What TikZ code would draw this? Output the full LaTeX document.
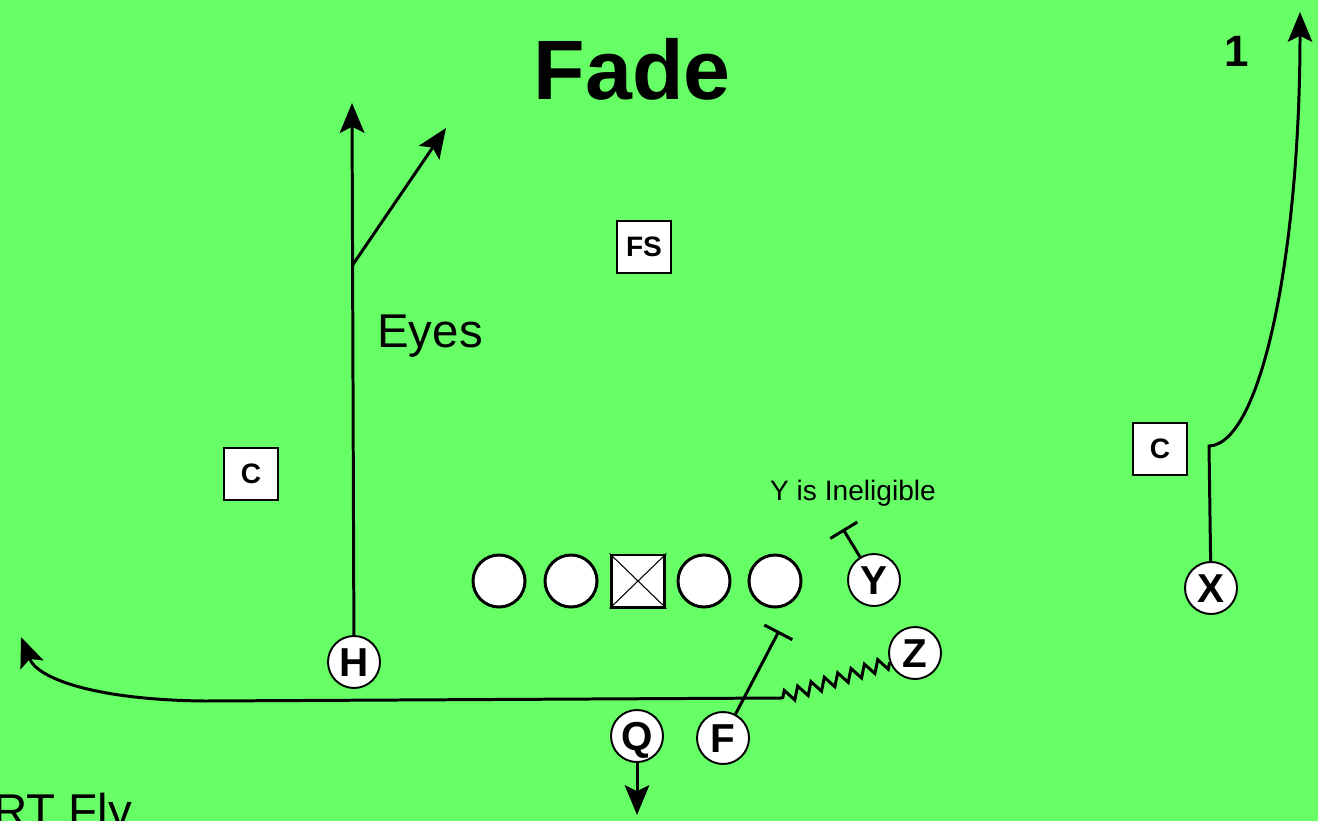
\documentclass[tikz,border=0pt]{standalone}
\usepackage{fontspec}
\setmainfont{Liberation Sans}
\usetikzlibrary{arrows.meta,decorations.pathmorphing}
\definecolor{field}{RGB}{102,255,102}
\tikzset{
	player/.style={circle,draw,fill=white,line width=1.1pt,minimum size=29.6pt,inner sep=0pt,text height=16.3pt,text depth=0pt,font=\fontsize{23}{23}\selectfont\bfseries},
	lineman/.style={circle,draw,fill=white,line width=1.7pt,minimum size=29.6pt,inner sep=0pt},
	defender/.style={rectangle,draw,fill=white,line width=0.8pt,minimum width=30.7pt,minimum height=29.6pt,inner sep=0pt,font=\fontsize{16}{16}\selectfont\bfseries},
	route/.style={line width=1.7pt,-{Stealth[length=17pt,width=14pt,inset=3.5pt]}},
	blockroute/.style={line width=1.7pt,-{Bar[width=18pt]}}
}
\begin{document}
\begin{tikzpicture}[x=0.02cm,y=-0.02cm]
			\useasboundingbox[fill=field] (0,0) rectangle (1318,821);
			\node[anchor=base,font=\fontsize{48}{48}\selectfont\bfseries] (title) at (632,100) {Fade};
			\node[anchor=base,font=\fontsize{25}{25}\selectfont\bfseries] (one) at (1237,67) {1};
			\node[anchor=base,font=\fontsize{27}{27}\selectfont] (eyes) at (430,347) {Eyes};
			\node[anchor=base,font=\fontsize{16}{16}\selectfont] (inel) at (853,500) {Y is Ineligible};
			\node[anchor=base west,font=\fontsize{27}{27}\selectfont,inner sep=0pt] (call) at (-7,827) {RT Fly};
			\node[defender] (FS) at (644,247) {FS};
			\node[defender] (CL) at (251,474) {C};
			\node[defender] (CR) at (1160,449) {C};
			\foreach \x/\n in {499/LT, 571/LG, 704/RG, 775/RT}
			\node[lineman] (\n) at (\x,581) {};
			\node[lineman,rectangle,minimum width=30.7pt] (C) at (638,581) {};
			\draw[line width=0.6pt] (C.north west) -- (C.south east) (C.north east) -- (C.south west);
			\node[player] (Y) at (874,580) {Y};
			\node[player] (X) at (1211,588) {X};
			\node[player] (Z) at (915,653) {Z};
			\node[player] (H) at (354,662) {H};
			\node[player] (Q) at (637,736) {Q};
			\node[player] (F) at (723,738) {F};
			\coordinate (hdeep) at (352,103);
			\coordinate (hbreak) at (352.6,265);
			\coordinate (hpost) at (446,128);
			\coordinate (xbreak) at (1209,446);
			\coordinate (xdeep) at (1300,12);
			\coordinate (qdrop) at (637,815);
			\coordinate (fblock) at (779,631);
			\coordinate (yblock) at (843,529);
			\coordinate (zset) at (781,698);
			\coordinate (zturn) at (205,701);
			\coordinate (zfly) at (21,637);
			\draw[route] (H) -- (hdeep);
			\draw[route] (hbreak) -- (hpost);
			\draw[route] (X) -- (xbreak) .. controls (1262,444) and (1300,250) .. (xdeep);
			\draw[route] (Q) -- (qdrop);
			\draw[blockroute] (F) -- (fblock);
			\draw[blockroute] (Y) -- (yblock);
			\draw[route] (Z.200) decorate[decoration={zigzag,segment length=8pt,amplitude=3.5pt}] {-- (zset)} -- (zturn) .. controls (100,700) and (38,680) .. (zfly);
		\end{tikzpicture}
\end{document}
